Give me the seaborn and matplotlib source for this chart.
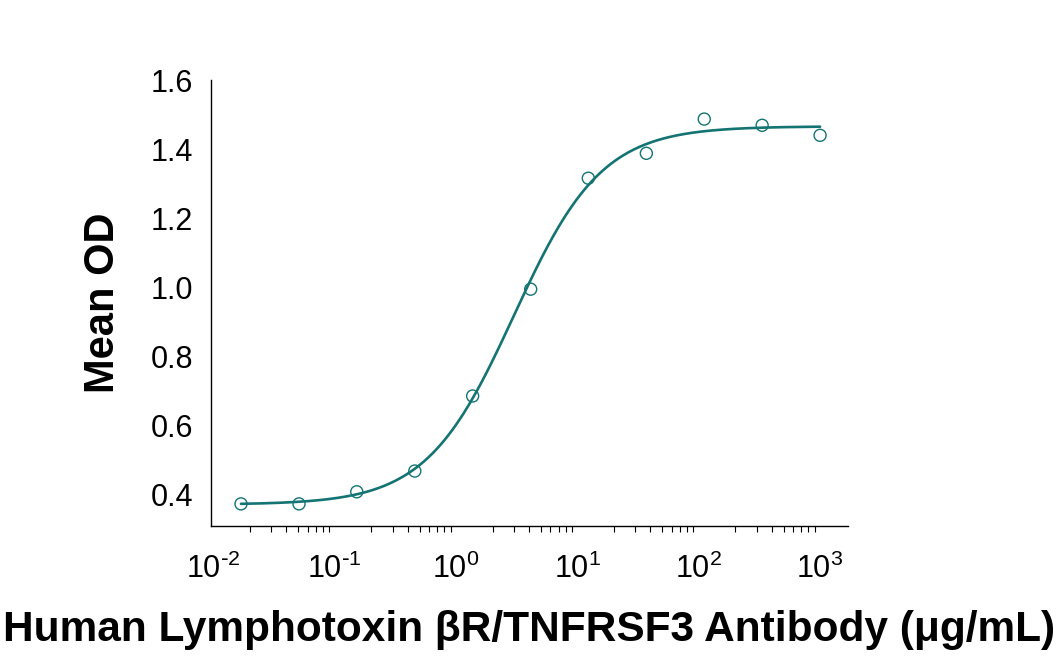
import numpy as np
import pandas as pd
import seaborn as sns
from matplotlib import pyplot as plt
from matplotlib.ticker import LogLocator, NullFormatter, FuncFormatter

# antibody concentration (ug/mL) and mean OD
conc = [0.0169, 0.0508, 0.152, 0.457, 1.37, 4.12, 12.3, 37.0, 111.0, 333.0, 1000.0]
mean_od = [0.374, 0.374, 0.409, 0.469, 0.686, 0.995, 1.316, 1.388, 1.487, 1.469, 1.440]

# 4PL fit parameters estimated from the drawn curve
fit_bottom = 0.372
fit_top = 1.466
fit_ec50 = 3.0
fit_hill = 1.2

teal = "#147473"

df = pd.DataFrame({"conc": conc, "od": mean_od})
xs = np.logspace(np.log10(conc[0]), np.log10(conc[-1]), 300)
curve = pd.DataFrame({
    "conc": xs,
    "od": fit_bottom + (fit_top - fit_bottom) / (1 + (fit_ec50 / xs) ** fit_hill),
})

sns.set_style("white")
plt.rcParams["font.family"] = ["Liberation Sans", "DejaVu Sans"]
plt.rcParams["text.color"] = "black"
plt.rcParams["axes.labelcolor"] = "black"


def decade_label(val, pos):
    exp = int(round(np.log10(val)))
    if exp < 0:
        return r"$\mathdefault{10^{\text{-}%d}}$" % (-exp)
    return r"$\mathdefault{10^{%d}}$" % exp


fig = plt.figure(figsize=(10.6, 6.58), dpi=100)
ax = fig.add_axes([0.199, 0.2006, 0.601, 0.6778])

sns.lineplot(data=curve, x="conc", y="od", color=teal, linewidth=1.9, ax=ax)
sns.scatterplot(data=df, x="conc", y="od", marker="o", s=75, facecolor="none",
                edgecolor=teal, linewidth=1.0, ax=ax, zorder=3)

ax.set_xscale("log")
ax.set_xlim(10 ** -2.02, 10 ** 3.23)
ax.set_ylim(0.31, 1.6)
ax.set_yticks([0.4, 0.6, 0.8, 1.0, 1.2, 1.4, 1.6])
ax.set_yticklabels(["0.4", "0.6", "0.8", "1.0", "1.2", "1.4", "1.6"])
ax.xaxis.set_major_locator(LogLocator(base=10, numticks=10))
ax.xaxis.set_major_formatter(FuncFormatter(decade_label))
ax.xaxis.set_minor_locator(LogLocator(base=10, subs=np.arange(2, 10), numticks=20))
ax.xaxis.set_minor_formatter(NullFormatter())

for side in ["top", "right"]:
    ax.spines[side].set_visible(False)
for side in ["left", "bottom"]:
    ax.spines[side].set_color("black")
    ax.spines[side].set_linewidth(1.0)

ax.tick_params(axis="both", which="major", direction="out", length=6, width=1,
               color="black", labelsize=22, labelcolor="black", pad=7)
ax.tick_params(axis="x", which="minor", direction="out", length=4, width=0.8,
               color="black", bottom=True)
ax.tick_params(axis="x", which="major", pad=14)

ax.set_xlabel("Human Lymphotoxin \u03b2R/TNFRSF3 Antibody (\u03bcg/mL)",
              fontsize=30.5, fontweight="bold", labelpad=18)
ax.set_ylabel("Mean OD", fontsize=30, fontweight="bold", labelpad=20)
ax.grid(False)

fig.savefig("out.png", dpi=100)
